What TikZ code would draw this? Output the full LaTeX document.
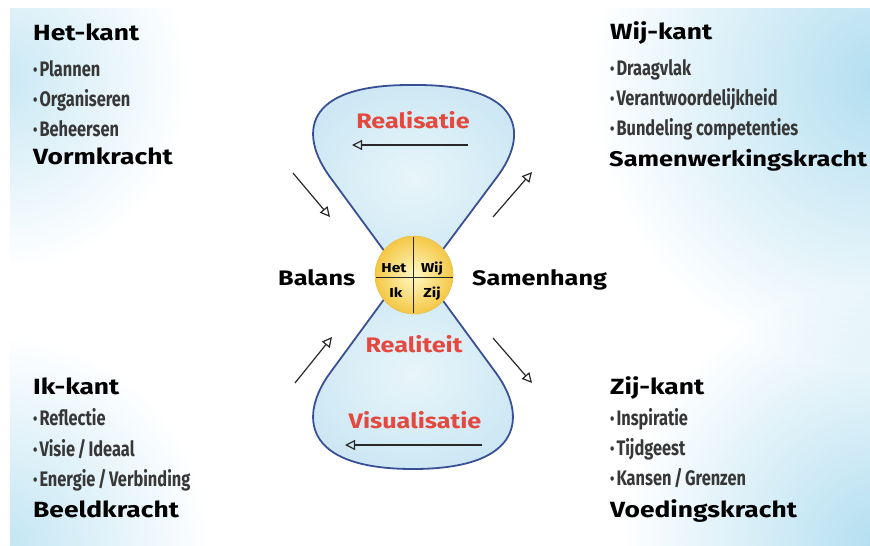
\documentclass[tikz,border=0pt]{standalone}
\usepackage{fontspec}
\setmainfont{Fira Sans}
\newfontfamily\handfont[FakeStretch=1.2]{Fira Sans}
\newfontfamily\bulletfont[FakeStretch=0.78]{Fira Sans}
\usetikzlibrary{arrows.meta}
\definecolor{bgblue}{RGB}{178,222,240}
\definecolor{lobeblue}{RGB}{205,232,244}
\definecolor{lobelight}{RGB}{232,245,250}
\definecolor{lobeedge}{RGB}{58,80,150}
\definecolor{labelred}{RGB}{228,72,62}
\definecolor{bulletgray}{RGB}{55,55,55}
\definecolor{arrowgray}{RGB}{40,40,40}
\definecolor{ballin}{RGB}{255,248,196}
\definecolor{ballout}{RGB}{244,200,70}
\newcommand\mybul{{\fontsize{16}{16}\selectfont\raisebox{0.5pt}{•}}\hspace{2pt}}
\newcommand\slsh{\hspace{2.5pt}/\hspace{2.5pt}}
\tikzset{
  heading/.style={font=\handfont\bfseries\fontsize{22}{22}\selectfont, anchor=base west, inner sep=0pt, text=black},
  bulletitem/.style={font=\bulletfont\bfseries\fontsize{21}{21}\selectfont, anchor=base west, inner sep=0pt, text=bulletgray},
  redlabel/.style={font=\handfont\bfseries\fontsize{21}{21}\selectfont, anchor=base, inner sep=0pt, text=labelred},
  midlabel/.style={font=\handfont\bfseries\fontsize{21}{21}\selectfont, anchor=base west, inner sep=0pt, text=black},
  quad/.style={font=\handfont\bfseries\fontsize{13}{13}\selectfont, anchor=base, inner sep=0pt, text=black},
  flow/.style={draw=arrowgray, line width=1.2pt, -{Triangle[open, length=10pt, width=10pt, line width=1.2pt]}},
  lobe/.style={inner color=lobelight, outer color=lobeblue, draw=lobeedge, line width=1.8pt, line join=round},
}
\begin{document}
\begin{tikzpicture}[x=1pt,y=-1pt]
\useasboundingbox (0,0) rectangle (870,546);
\fill[white] (0,0) rectangle (870,546);
% corner gradients
\begin{scope}
  \clip (10,8) rectangle (870,546);
  \begin{scope}[blend mode=multiply]
    \shade[inner color=bgblue!70, outer color=white] (0,80) circle (190);
    \shade[inner color=bgblue!80, outer color=white] (0,546) circle (210);
    \shade[inner color=bgblue, outer color=white] (880,80) circle (290);
    \shade[inner color=bgblue, outer color=white] (880,546) circle (260);
  \end{scope}
\end{scope}

% hourglass lobes
\shade[lobe] (413,272) -- (385,252) -- (330,177)
   .. controls (300,136) and (300,84) .. (413,85)
   .. controls (526,84) and (528,136) .. (497,177)
   -- (441,252) -- cycle;
\shade[lobe] (413,278) -- (385,298) -- (330,373)
   .. controls (300,414) and (300,469) .. (413,469)
   .. controls (526,469) and (526,414) .. (496,373)
   -- (441,298) -- cycle;

% centre ball
\shade[inner color=ballin, outer color=ballout, draw={rgb,255:red,236;green,190;blue,80}, line width=0.6pt] (414,275) circle (39);
\coordinate (vt) at (413,237);
\coordinate (vb) at (413,313);
\coordinate (hl) at (376,277);
\coordinate (hr) at (453,277);
\draw[arrowgray, line width=0.9pt] (vt) -- (vb);
\draw[arrowgray, line width=0.9pt] (hl) -- (hr);
\node[quad] (qhet) at (394,272) {Het};
\node[quad] (qwij) at (432,272) {Wij};
\node[quad] (qik) at (396,297) {Ik};
\node[quad] (qzij) at (432,297) {Zij};

% labels in lobes
\node[redlabel] (realisatie) at (413,128) {Realisatie};
\node[redlabel] (realiteit) at (414,352) {Realiteit};
\node[redlabel] (visualisatie) at (415,428) {Visualisatie};
\coordinate (r1s) at (468,145);
\coordinate (r1e) at (352,145);
\draw[flow] (r1s) -- (r1e);
\coordinate (v1s) at (482,445);
\coordinate (v1e) at (345,445);
\draw[flow] (v1s) -- (v1e);

% diagonal arrows
\coordinate (a1s) at (293,173); \coordinate (a1e) at (330,217);
\coordinate (a2s) at (493,217); \coordinate (a2e) at (532,172);
\coordinate (a3s) at (295,383); \coordinate (a3e) at (332,337);
\coordinate (a4s) at (493,338); \coordinate (a4e) at (532,383);
\draw[flow] (a1s) -- (a1e);
\draw[flow] (a2s) -- (a2e);
\draw[flow] (a3s) -- (a3e);
\draw[flow] (a4s) -- (a4e);

% middle words
\node[midlabel] (balans) at (278,285) {Balans};
\node[midlabel] (samenhang) at (472,285) {Samenhang};

% top-left
\node[heading] (hetkant) at (33,40) {Het-kant};
\node[bulletitem] (het1) at (33,76) {\mybul Plannen};
\node[bulletitem] (het2) at (33,106) {\mybul Organiseren};
\node[bulletitem] (het3) at (33,136) {\mybul Beheersen};
\node[heading] (vorm) at (33,164) {Vormkracht};

% top-right
\node[heading] (wijkant) at (610,39) {Wij-kant};
\node[bulletitem] (wij1) at (610,75) {\mybul Draagvlak};
\node[bulletitem] (wij2) at (610,105) {\mybul Verantwoordelijkheid};
\node[bulletitem] (wij3) at (610,135) {\mybul Bundeling competenties};
\node[heading, font=\handfont\bfseries\fontsize{21.2}{22}\selectfont] (samen) at (609,166) {Samenwerkingskracht};

% bottom-left
\node[heading] (ikkant) at (33,394) {Ik-kant};
\node[bulletitem] (ik1) at (33,425) {\mybul Reflectie};
\node[bulletitem] (ik2) at (33,456) {\mybul Visie\slsh Ideaal};
\node[bulletitem] (ik3) at (33,486) {\mybul Energie\slsh Verbinding};
\node[heading] (beeld) at (33,517) {Beeldkracht};

% bottom-right
\node[heading] (zijkant) at (610,394) {Zij-kant};
\node[bulletitem] (zij1) at (610,425) {\mybul Inspiratie};
\node[bulletitem] (zij2) at (610,455) {\mybul Tijdgeest};
\node[bulletitem] (zij3) at (610,485) {\mybul Kansen\slsh Grenzen};
\node[heading] (voeding) at (610,517) {Voedingskracht};
\end{tikzpicture}
\end{document}
